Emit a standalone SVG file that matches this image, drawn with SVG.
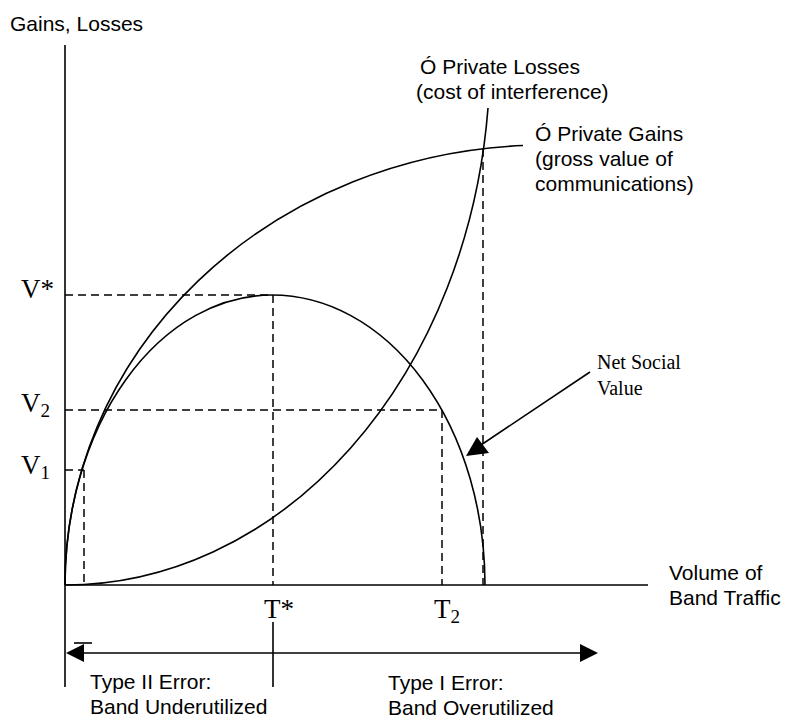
<svg xmlns="http://www.w3.org/2000/svg" width="786" height="719" viewBox="0 0 786 719">
<defs>
<style>
.ax{stroke:#000;stroke-width:1.6;fill:none}
.cv{stroke:#000;stroke-width:1.6;fill:none}
.ds{stroke:#000;stroke-width:1.5;fill:none;stroke-dasharray:8 5}
.sans{font-family:"Liberation Sans",Arial,sans-serif;font-size:21px;fill:#000}
.serif{font-family:"Liberation Serif","Times New Roman",serif;fill:#000}
.big{font-size:27px}
.sub{font-size:19px}
.small{font-size:20px}
</style>
</defs>
<rect width="786" height="719" fill="#fff"/>
<g id="axes">
<line class="ax" x1="65" y1="45" x2="65" y2="687"/>
<line class="ax" x1="65" y1="585" x2="648" y2="585"/>
</g>
<g id="connectors">
<line class="ds" x1="65" y1="295" x2="273" y2="295"/>
<line class="ds" x1="273" y1="295" x2="273" y2="585"/>
<line class="ds" x1="65" y1="410" x2="442" y2="410"/>
<line class="ds" x1="442" y1="410" x2="442" y2="585"/>
<line class="ds" x1="65" y1="470" x2="84" y2="470"/>
<line class="ds" x1="84" y1="470" x2="84" y2="585"/>
<line class="ds" x1="483" y1="149" x2="483" y2="585"/>
<line class="ax" x1="590" y1="372" x2="478" y2="447"/>
<polygon points="466,456 477,437 489,453" fill="#000"/>
<line class="ax" x1="80" y1="653" x2="584" y2="653"/>
<polygon points="66,653 84,644 84,662" fill="#000"/>
<polygon points="598,653 580,644 580,662" fill="#000"/>
<line class="ax" x1="74" y1="643" x2="92" y2="643"/>
<line class="ax" x1="273" y1="622" x2="273" y2="687"/>
</g>
<g id="private-gains">
<path class="cv" d="M65,585 A480,440 0 0 1 523,145.5"/>
<text class="sans" x="535" y="141">Ó Private Gains</text>
<text class="sans" x="535" y="166">(gross value of</text>
<text class="sans" x="535" y="191">communications)</text>
</g>
<g id="private-losses">
<path class="cv" d="M65,585 A425,528 0 0 0 488,108"/>
<text class="sans" x="420" y="74">Ó Private Losses</text>
<text class="sans" x="416" y="99">(cost of interference)</text>
</g>
<g id="net-social-value">
<path class="cv" d="M65,585 A207,290 0 0 1 272,295 A213,290 0 0 1 485,585"/>
<text class="serif small" x="597" y="369">Net Social</text>
<text class="serif small" x="597" y="395">Value</text>
</g>
<g id="labels">
<text class="sans" x="10" y="31">Gains, Losses</text>
<text class="sans" x="669" y="580">Volume of</text>
<text class="sans" x="669" y="605">Band Traffic</text>
<text class="serif big" x="21" y="298">V*</text>
<text class="serif big" x="21" y="412">V<tspan class="sub" dy="5">2</tspan></text>
<text class="serif big" x="21" y="474">V<tspan class="sub" dy="5">1</tspan></text>
<text class="serif big" x="264" y="618">T*</text>
<text class="serif big" x="434" y="618">T<tspan class="sub" dy="5">2</tspan></text>
<text class="sans" x="90" y="689">Type II Error:</text>
<text class="sans" x="90" y="714">Band Underutilized</text>
<text class="sans" x="388" y="690">Type I Error:</text>
<text class="sans" x="388" y="715">Band Overutilized</text>
</g>
</svg>
